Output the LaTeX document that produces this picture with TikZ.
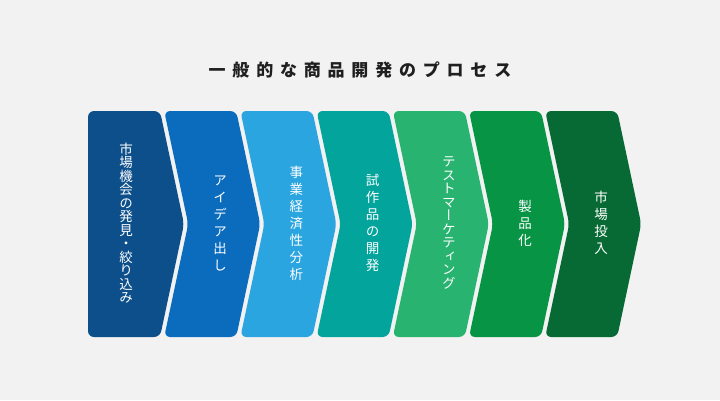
\documentclass[tikz,border=0pt]{standalone}
\usepackage{fontspec}
\usepackage{graphicx}
\usepackage{tikz}
\usetikzlibrary{positioning, calc}
\newfontfamily\jp{Noto Sans CJK JP}
\newfontfamily\jpv[RawFeature=+vert]{Noto Sans CJK JP}
\definecolor{bgcol}{HTML}{F2F2F2}
\definecolor{stage1}{HTML}{0D4F8B}
\definecolor{stage2}{HTML}{0B6CBE}
\definecolor{stage3}{HTML}{2BA5E0}
\definecolor{stage4}{HTML}{03A49C}
\definecolor{stage5}{HTML}{28B470}
\definecolor{stage6}{HTML}{089445}
\definecolor{stage7}{HTML}{076A35}
\tikzset{stagetext/.style={text=white, align=center, inner sep=0pt,
  font=\jpv\fontsize{13.5}{17}\selectfont}}
\tikzset{tighttext/.style={stagetext, font=\jpv\fontsize{13.5}{13.5}\selectfont}}
\tikzset{titletext/.style={text=black!88, inner sep=0pt,
  font=\jp\bfseries\fontsize{17}{20}\selectfont\addfontfeature{LetterSpace=40}}}

\begin{document}
\begin{tikzpicture}[x=1pt, y=-1pt]
  \useasboundingbox (0,0) rectangle (720,400);
  \fill[bgcol] (0,0) rectangle (720,400);
  %Title
  \node[titletext] (title) at (360,70) {一般的な商品開発のプロセス};
  %Chevrons
  \foreach \i in {1,...,7}{
    \pgfmathsetmacro\xo{88+76.2*(\i-1)}
    \ifnum\i=1 \def\nx{0}\def\tx{38}\else\def\nx{24}\def\tx{56}\fi
    \fill[stage\i, rounded corners=6pt] (\xo,111) -- (\xo+72,111) -- (\xo+96,224)
      -- (\xo+72,337) -- (\xo,337) -- (\xo+\nx,224) -- cycle;
    \coordinate (c\i) at (\xo+\tx,223);
  }
  %Labels
  \node[tighttext] (s1) at (c1) {市\\場\\機\\会\\の\\発\\見\\・\\絞\\り\\込\\み};
  \node[stagetext] (s2) at (c2) {ア\\イ\\デ\\ア\\出\\し};
  \node[stagetext] (s3) at (c3) {事\\業\\経\\済\\性\\分\\析};
  \node[stagetext] (s4) at (c4) {試\\作\\品\\の\\開\\発};
  \node[tighttext] (s5) at (c5) {テ\\ス\\ト\\マ\\ー\\ケ\\テ\\ィ\\ン\\グ};
  \node[stagetext] (s6) at (c6) {製\\品\\化};
  \node[stagetext] (s7) at (c7) {市\\場\\投\\入};
\end{tikzpicture}
\end{document}
